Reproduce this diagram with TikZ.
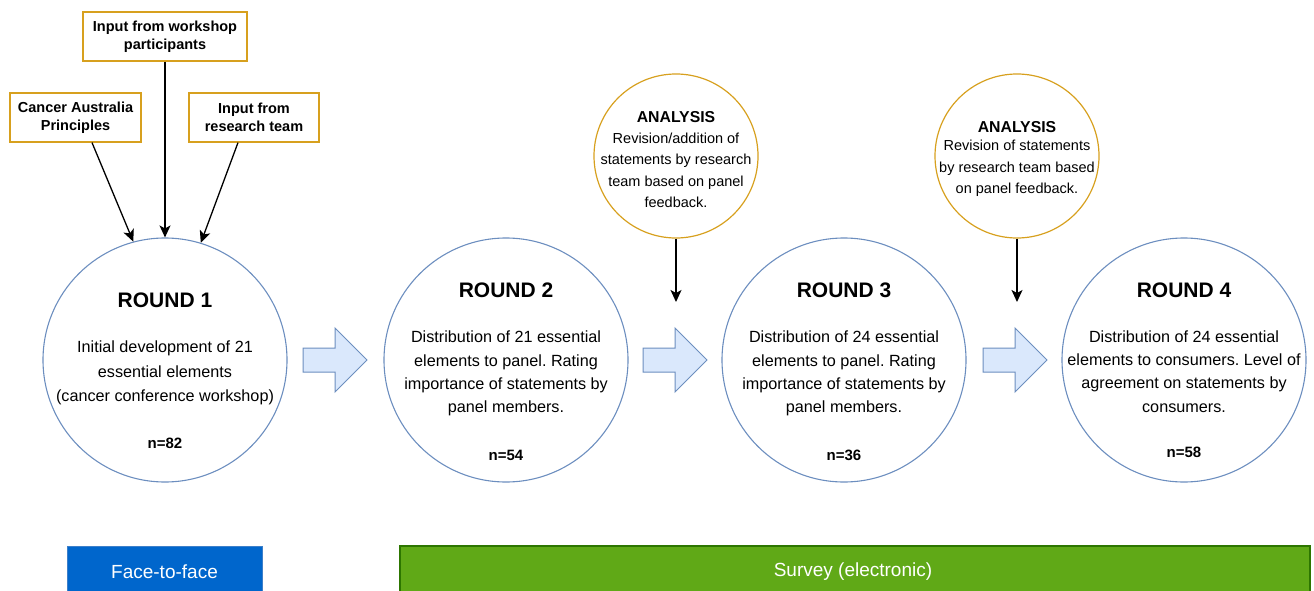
\documentclass[tikz,border=0pt]{standalone}
\usepackage{fontspec}
\setmainfont{Liberation Sans}
\usetikzlibrary{arrows.meta}
\definecolor{gold}{RGB}{215,160,30}
\definecolor{cblue}{HTML}{6C8EBF}
\definecolor{afill}{HTML}{DAE8FC}
\definecolor{fblue}{HTML}{0066CC}
\definecolor{fbluedark}{HTML}{3D7FC9}
\definecolor{sgreen}{HTML}{60A917}
\definecolor{sgreendark}{HTML}{2D7600}
\frenchspacing
\begin{document}
\begin{tikzpicture}[x=1pt,y=-1pt,
  inbox/.style={draw=gold, line width=1.2pt, fill=white, align=center, inner sep=0pt,
    font=\bfseries\fontsize{14.5}{18}\selectfont, minimum height=49pt},
  roundc/.style={circle, draw=cblue, line width=1.1pt, minimum size=244pt, inner sep=0pt},
  anacirc/.style={circle, draw=gold, line width=1.2pt, minimum size=164pt, inner sep=0pt},
  ttl/.style={font=\bfseries\fontsize{21}{25}\selectfont, inner sep=0pt, anchor=base},
  anattl/.style={font=\bfseries\fontsize{15.8}{19}\selectfont, inner sep=0pt, anchor=base},
  body/.style={align=center, inner sep=0pt, font=\fontsize{16.2}{23.3}\selectfont},
  anabody/.style={align=center, inner sep=0pt, font=\fontsize{14.5}{21.4}\selectfont},
  nval/.style={font=\bfseries\fontsize{15}{18}\selectfont, inner sep=0pt, anchor=base},
  arr/.style={-{Stealth[length=12pt,width=11pt,inset=3pt]}, line width=1.3pt, black},
  barrow/.style={draw=cblue, fill=afill, line width=1pt, line join=miter},
  bar/.style={inner sep=0pt, minimum height=50pt},
  bartext/.style={text=white, font=\fontsize{19}{22}\selectfont, inner sep=0pt}
]
\useasboundingbox (0,0) rectangle (1314,591);

% top input boxes
\node[inbox, minimum width=164pt] (ws) at (165,36.5) {Input from workshop\\participants};
\node[inbox, minimum width=131pt] (ca) at (75.5,117.5) {Cancer Australia\\Principles};
\node[inbox, minimum width=130pt] (rt) at (254,117.5) {Input from\\research team};

% round circles
\node[roundc] (r1) at (165,360) {};
\node[roundc] (r2) at (506,360) {};
\node[roundc] (r3) at (844,360) {};
\node[roundc] (r4) at (1184,360) {};

% analysis circles
\node[anacirc] (a1) at (676,156) {};
\node[anacirc] (a2) at (1017,156) {};

% arrows into round 1
\draw[arr] ([xshift=16.5pt]ca.south) -- (r1.105);
\draw[arr] (ws.south) -- (r1.north);
\draw[arr] ([xshift=-16pt]rt.south) -- (r1.73);

% analysis arrows
\coordinate (a1e) at (676,302);
\coordinate (a2e) at (1017,302);
\draw[arr] (a1.south) -- (a1e);
\draw[arr] (a2.south) -- (a2e);

% round texts
\node[ttl] (t1) at (165,307.5) {ROUND 1};
\node[body, font=\fontsize{16.2}{24.5}\selectfont] (b1) at (165,373) {Initial development of 21\\essential elements\\(cancer conference workshop)};
\node[nval] (n1) at (165,448.4) {n=82};

\node[ttl] (t2) at (506,297.5) {ROUND 2};
\node[body] (b2) at (506,373.5) {Distribution of 21 essential\\elements to panel. Rating\\importance of statements by\\panel members.};
\node[nval] (n2) at (506,460.4) {n=54};

\node[ttl] (t3) at (844,297.5) {ROUND 3};
\node[body] (b3) at (844,373.5) {Distribution of 24 essential\\elements to panel. Rating\\importance of statements by\\panel members.};
\node[nval] (n3) at (844,460.4) {n=36};

\node[ttl] (t4) at (1184,297.5) {ROUND 4};
\node[body] (b4) at (1184,371.5) {Distribution of 24 essential\\elements to consumers. Level of\\agreement on statements by\\consumers.};
\node[nval] (n4) at (1184,457.4) {n=58};

% analysis texts
\node[anattl] (at1) at (676,122.7) {ANALYSIS};
\node[anabody] (ab1) at (676,170.5) {Revision/addition of\\statements by research\\team based on panel\\feedback.};
\node[anattl] (at2) at (1017,132.7) {ANALYSIS};
\node[anabody] (ab2) at (1017,168.5) {Revision of statements\\by research team based\\on panel feedback.};

% block arrows
\foreach \bx in {303,643,983}{
  \draw[barrow] (\bx,348) -- ++(32,0) -- ++(0,-20) -- ++(32,32) -- ++(-32,32) -- ++(0,-20) -- ++(-32,0) -- cycle;
}

% bottom bars
\begin{scope}
\clip (0,0) rectangle (1314,591);
\node[bar, fill=fblue, draw=fbluedark, line width=1pt, minimum width=195pt] (ff) at (164.5,571) {};
\node[bar, fill=sgreen, draw=sgreendark, line width=1.2pt, minimum width=910pt] (sv) at (855,571) {};
\end{scope}
\node[bartext] (fft) at (164.5,572) {Face-to-face};
\node[bartext] (svt) at (853,572) {Survey (electronic)};
\end{tikzpicture}
\end{document}
